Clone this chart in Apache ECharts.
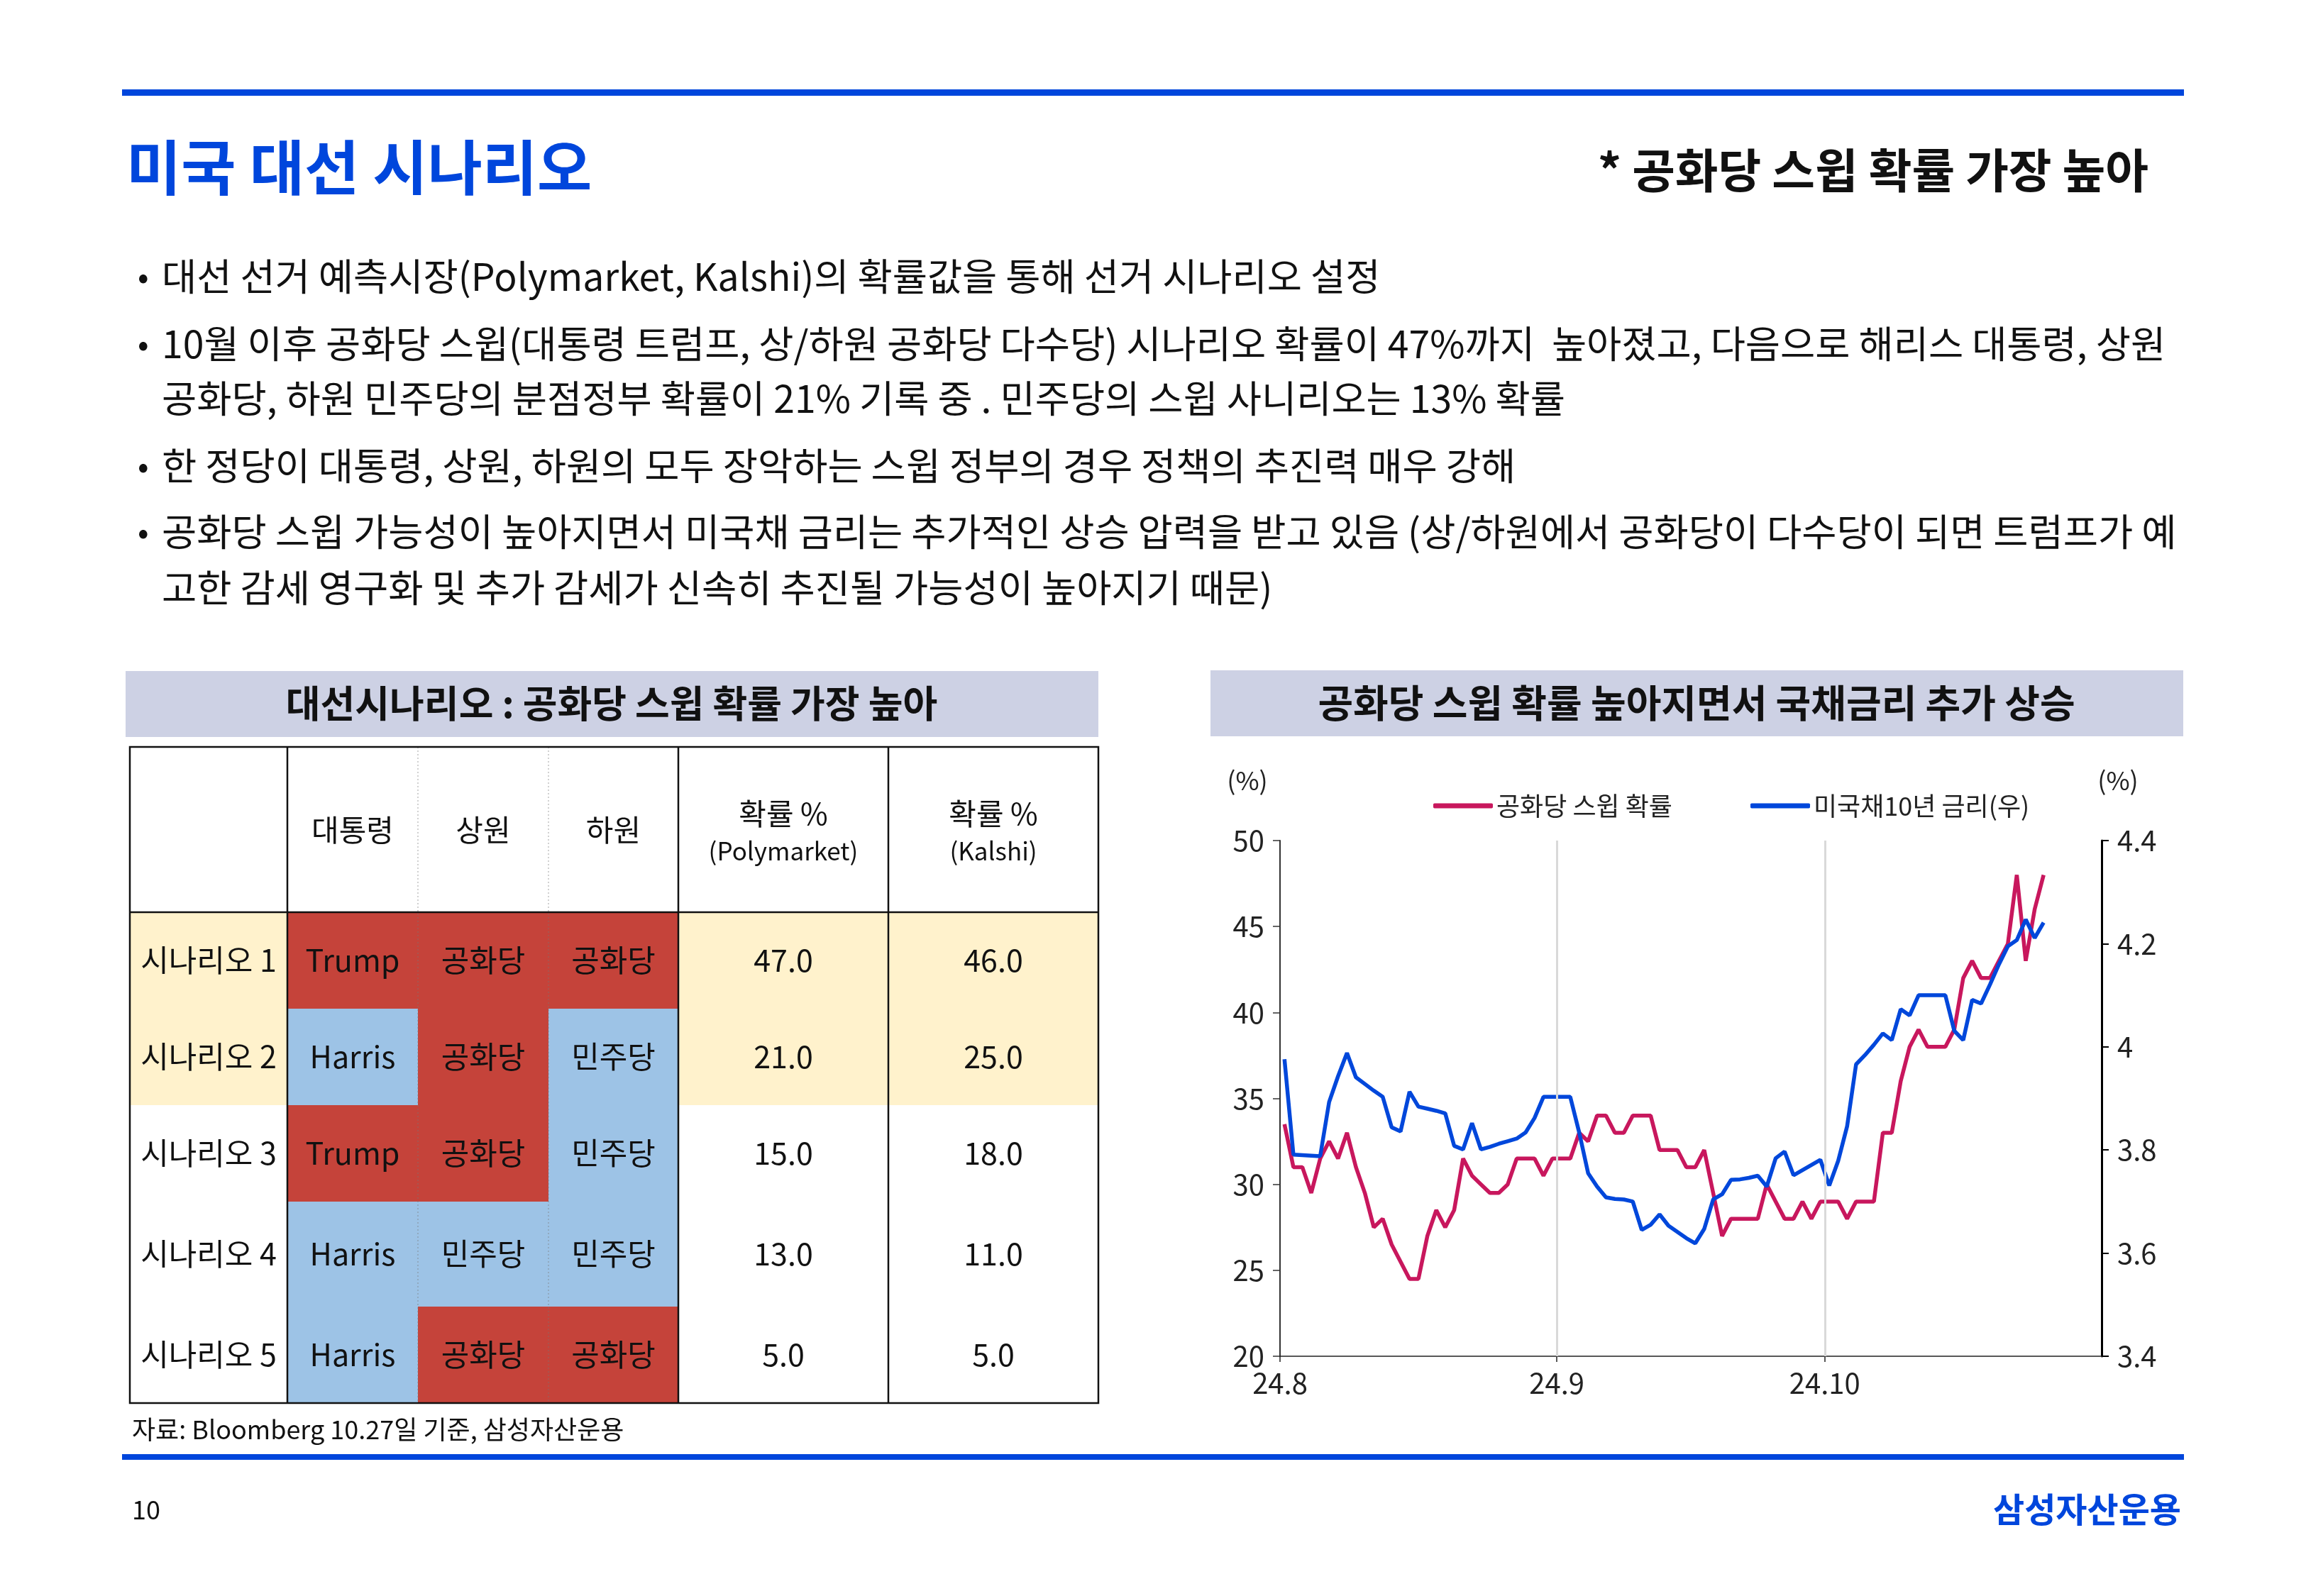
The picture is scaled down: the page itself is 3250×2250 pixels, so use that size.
<!DOCTYPE html>
<html><head><meta charset="utf-8">
<script src="https://cdn.jsdelivr.net/npm/echarts@6/dist/echarts.min.js"></script>
<style>html,body{margin:0;padding:0;background:#fff}#c{width:3250px;height:2250px}</style>
</head><body><div id="c"></div>
<script>
// ---------------- DATA ----------------
const dates = [
 '2024-08-01','2024-08-02','2024-08-03','2024-08-04','2024-08-05','2024-08-06','2024-08-07','2024-08-08','2024-08-09','2024-08-10',
 '2024-08-11','2024-08-12','2024-08-13','2024-08-14','2024-08-15','2024-08-16','2024-08-17','2024-08-18','2024-08-19','2024-08-20',
 '2024-08-21','2024-08-22','2024-08-23','2024-08-24','2024-08-25','2024-08-26','2024-08-27','2024-08-28','2024-08-29','2024-08-30',
 '2024-08-31',
 '2024-09-01','2024-09-02','2024-09-03','2024-09-04','2024-09-05','2024-09-06','2024-09-07','2024-09-08','2024-09-09','2024-09-10',
 '2024-09-11','2024-09-12','2024-09-13','2024-09-14','2024-09-15','2024-09-16','2024-09-17','2024-09-18','2024-09-19','2024-09-20',
 '2024-09-21','2024-09-22','2024-09-23','2024-09-24','2024-09-25','2024-09-26','2024-09-27','2024-09-28','2024-09-29','2024-09-30',
 '2024-10-01','2024-10-02','2024-10-03','2024-10-04','2024-10-05','2024-10-06','2024-10-07','2024-10-08','2024-10-09','2024-10-10',
 '2024-10-11','2024-10-12','2024-10-13','2024-10-14','2024-10-15','2024-10-16','2024-10-17','2024-10-18','2024-10-19','2024-10-20',
 '2024-10-21','2024-10-22','2024-10-23','2024-10-24','2024-10-25'
];
const sweepProb = [
 33.5,31,31,29.5,31.5,32.5,31.5,33,31,29.5,
 27.5,28,26.5,25.5,24.5,24.5,27,28.5,27.5,28.5,
 31.5,30.5,30,29.5,29.5,30,31.5,31.5,31.5,30.5,
 31.5,
 31.5,31.5,33,32.5,34,34,33,33,34,34,
 34,32,32,32,31,31,32,29.5,27,28,
 28,28,28,30,29,28,28,29,28,29,
 29,29,28,29,29,29,33,33,36,38,
 39,38,38,38,39,42,43,42,42,43,
 44,48,43,46,48
];
const ust10y = [
 3.976,3.791,3.790,3.789,3.788,3.893,3.943,3.988,3.941,3.928,
 3.915,3.903,3.844,3.836,3.913,3.884,3.880,3.876,3.871,3.808,
 3.801,3.852,3.801,3.806,3.812,3.817,3.822,3.834,3.862,3.903,
 3.903,
 3.903,3.903,3.834,3.755,3.729,3.708,3.705,3.704,3.700,3.645,
 3.655,3.675,3.653,3.641,3.629,3.619,3.647,3.704,3.714,3.742,
 3.743,3.746,3.750,3.729,3.784,3.797,3.751,3.761,3.771,3.781,
 3.731,3.779,3.846,3.966,3.984,4.004,4.026,4.013,4.073,4.061,
 4.100,4.100,4.100,4.100,4.031,4.013,4.091,4.084,4.121,4.160,
 4.195,4.207,4.247,4.211,4.241
];
const seriesNames = ['공화당 스윕 확률','미국채10년 금리(우)'];
const xTickDates = ['2024-08-01','2024-09-01','2024-10-01'];
const xTickLabels = ['24.8','24.9','24.10'];
const gridLineDates = ['2024-09-01','2024-10-01'];
const xRange = ['2024-08-01','2024-11-01'];

const scenarioLabels = ['시나리오 1','시나리오 2','시나리오 3','시나리오 4','시나리오 5'];
const presidentCol = ['Trump','Harris','Trump','Harris','Harris'];
const senateCol = ['공화당','공화당','공화당','민주당','공화당'];
const houseCol = ['공화당','민주당','민주당','민주당','공화당'];
const polymarketProb = [47,21,15,13,5];
const kalshiProb = [46,25,18,11,5];
const partyHeaders = ['대통령','상원','하원'];
const probHeaders = [['확률 %','(Polymarket)'],['확률 %','(Kalshi)']];

const pageTitle = '미국 대선 시나리오';
const pageSubtitle = '* 공화당 스윕 확률 가장 높아';
const bulletLines = [
 {b:true, t:'대선 선거 예측시장(Polymarket, Kalshi)의 확률값을 통해 선거 시나리오 설정'},
 {b:true, t:'10월 이후 공화당 스윕(대통령 트럼프, 상/하원 공화당 다수당) 시나리오 확률이 47%까지  높아졌고, 다음으로 해리스 대통령, 상원'},
 {b:false,t:'공화당, 하원 민주당의 분점정부 확률이 21% 기록 중 . 민주당의 스윕 사니리오는 13% 확률'},
 {b:true, t:'한 정당이 대통령, 상원, 하원의 모두 장악하는 스윕 정부의 경우 정책의 추진력 매우 강해'},
 {b:true, t:'공화당 스윕 가능성이 높아지면서 미국채 금리는 추가적인 상승 압력을 받고 있음 (상/하원에서 공화당이 다수당이 되면 트럼프가 예'},
 {b:false,t:'고한 감세 영구화 및 추가 감세가 신속히 추진될 가능성이 높아지기 때문)'}
];
const leftPanelTitle = '대선시나리오 : 공화당 스윕 확률 가장 높아';
const rightPanelTitle = '공화당 스윕 확률 높아지면서 국채금리 추가 상승';
const sourceText = '자료: Bloomberg 10.27일 기준, 삼성자산운용';
const pageNumber = '10';
const companyName = '삼성자산운용';

// ---------------- STYLE ----------------
const FONT = '"Noto Sans CJK KR","Noto Sans",sans-serif';
const BLUE = '#0046dc';
const RED_LINE = '#c8175d';
const BLUE_LINE = '#0047db';
const HEAD_BG = '#cdd1e4';
const CELL_RED = '#c5433a';
const CELL_BLUE = '#9dc3e6';
const CELL_YEL = '#fff2cc';

const ts = s => new Date(s + 'T00:00:00').getTime();
const HALF_DAY = 12 * 3600 * 1000;
const xTickTs = xTickDates.map(ts);

function T(text, x, y, size, o) {
  o = o || {};
  return {type:'text', x, y, z: o.z || 20, silent:true,
    style:{text, fontSize:size, fontFamily:FONT, fontWeight:o.w || 'normal',
      fill:o.c || '#111', align:o.a || 'left', verticalAlign:'middle'}};
}
function R(x, y, w, h, fill, z) {
  return {type:'rect', z: z || 1, silent:true, shape:{x, y, width:w, height:h}, style:{fill}};
}
function L(x1, y1, x2, y2, stroke, lw, dash, z) {
  return {type:'line', z: z || 15, silent:true, shape:{x1, y1, x2, y2},
    style:{stroke, lineWidth:lw, lineDash: dash || null}};
}

const g = [];
g.push(R(172, 126, 2906, 9, BLUE, 2));
g.push(R(172, 2050, 2906, 8, BLUE, 2));
g.push(T(pageTitle, 178, 236, 84, {w:'bold', c:BLUE}));
g.push(T(pageSubtitle, 3028, 240, 66, {w:'bold', c:'#111', a:'right'}));
const bulletY = [390, 485, 562, 657, 750, 829];
bulletLines.forEach((ln, i) => {
  if (ln.b) g.push(T('•', 194, bulletY[i], 46, {c:'#111'}));
  g.push(T(ln.t, 228, bulletY[i], 53.5, {c:'#111'}));
});
g.push(R(177, 946, 1371, 93, HEAD_BG, 2));
g.push(T(leftPanelTitle, 862, 992, 53, {w:'bold', a:'center'}));
g.push(R(1706, 945, 1371, 93, HEAD_BG, 2));
g.push(T(rightPanelTitle, 2391, 991, 54, {w:'bold', a:'center'}));

const colX = [183, 405, 589, 773, 956, 1252, 1548];
const rowY = [1053, 1286, 1422, 1558, 1694, 1842, 1978];
const highlightRows = 2;
const partyColor = v => (v === 'Trump' || v === '공화당') ? CELL_RED : CELL_BLUE;
for (let r = 0; r < scenarioLabels.length; r++) {
  const y0 = rowY[r + 1], h = rowY[r + 2] - rowY[r + 1], cy = y0 + h / 2;
  const hl = r < highlightRows;
  const cells = [
    {v: scenarioLabels[r], fill: hl ? CELL_YEL : null},
    {v: presidentCol[r], fill: partyColor(presidentCol[r])},
    {v: senateCol[r], fill: partyColor(senateCol[r])},
    {v: houseCol[r], fill: partyColor(houseCol[r])},
    {v: polymarketProb[r].toFixed(1), fill: hl ? CELL_YEL : null},
    {v: kalshiProb[r].toFixed(1), fill: hl ? CELL_YEL : null}
  ];
  cells.forEach((c, ci) => {
    if (c.fill) g.push(R(colX[ci], y0, colX[ci + 1] - colX[ci], h, c.fill, 3));
    g.push(T(c.v, (colX[ci] + colX[ci + 1]) / 2, cy, 43, {a:'center', c:'#111'}));
  });
}
partyHeaders.forEach((hd, i) => g.push(T(hd, (colX[i + 1] + colX[i + 2]) / 2, 1170, 42, {a:'center'})));
probHeaders.forEach((hd, i) => {
  const cx = (colX[i + 4] + colX[i + 5]) / 2;
  g.push(T(hd[0], cx, 1147, 42, {a:'center'}));
  g.push(T(hd[1], cx, 1200, 35, {a:'center'}));
});
g.push({type:'rect', z:16, silent:true, shape:{x:183, y:1053, width:1365, height:925},
  style:{fill:null, stroke:'#111', lineWidth:2.5}});
[405, 956, 1252].forEach(x => g.push(L(x, 1053, x, 1978, '#111', 2.5)));
[589, 773].forEach(x => g.push(L(x, 1053, x, 1978, 'rgba(120,120,120,0.45)', 1.5, [2, 3], 14)));
g.push(L(183, 1286, 1548, 1286, '#111', 2.5));
g.push(T(sourceText, 186, 2015, 36));
g.push(T(pageNumber, 186, 2128, 36));
g.push(T(companyName, 3074, 2128, 48, {w:'bold', c:BLUE, a:'right'}));
g.push(T('(%)', 1758, 1100, 36, {a:'center', c:'#222'}));
g.push(T('(%)', 2985, 1100, 36, {a:'center', c:'#222'}));

// ---------------- CHART ----------------
const chart = echarts.init(document.getElementById('c'), null, {renderer:'canvas', width:3250, height:2250});
const axisFont = {fontSize:40, fontFamily:FONT, color:'#222'};
chart.setOption({
  backgroundColor:'#fff',
  animation:false,
  textStyle:{fontFamily:FONT},
  graphic: g,
  grid:{left:1804, top:1185, width:1158, height:727, containLabel:false},
  legend:[
    {data:[seriesNames[0]], left:2015, top:1113, icon:'roundRect', itemWidth:84, itemHeight:7,
      textStyle:{fontSize:36, fontFamily:FONT, color:'#222'}},
    {data:[seriesNames[1]], left:2462, top:1113, icon:'roundRect', itemWidth:84, itemHeight:7,
      textStyle:{fontSize:36, fontFamily:FONT, color:'#222'}}
  ],
  xAxis:{
    type:'value', min:ts(xRange[0]), max:ts(xRange[1]), scale:true,
    axisLine:{show:true, lineStyle:{color:'#222', width:1.5}},
    axisTick:{show:true, customValues:xTickTs, length:8, lineStyle:{color:'#222', width:1.5}},
    axisLabel:Object.assign({customValues:xTickTs, margin:18,
      formatter:v => { const i = xTickTs.indexOf(v); return i >= 0 ? xTickLabels[i] : ''; }}, axisFont),
    splitLine:{show:false}
  },
  yAxis:[
    {type:'value', min:20, max:50, interval:5, position:'left',
      axisLine:{show:true, lineStyle:{color:'#333', width:2}},
      axisTick:{show:true, length:10, lineStyle:{color:'#333', width:1.5}},
      axisLabel:Object.assign({margin:22}, axisFont), splitLine:{show:false}},
    {type:'value', min:3.4, max:4.4, interval:0.2, position:'right',
      axisLine:{show:true, lineStyle:{color:'#000', width:3}},
      axisTick:{show:true, length:10, lineStyle:{color:'#000', width:2}},
      axisLabel:Object.assign({margin:22, formatter:v => String(Math.round(v * 10) / 10)}, axisFont),
      splitLine:{show:false}}
  ],
  series:[
    {type:'line', name:'_grid', data:[], z:1, silent:true,
      markLine:{silent:true, symbol:['none','none'], label:{show:false},
        lineStyle:{color:'#d9d9d9', width:3, type:'solid'},
        data:gridLineDates.map(d => ({xAxis: ts(d)}))}},
    {type:'line', name:seriesNames[0], yAxisIndex:0, z:3, showSymbol:false, symbol:'none',
      lineStyle:{color:RED_LINE, width:5.5}, itemStyle:{color:RED_LINE},
      data:dates.map((d, i) => [ts(d) + HALF_DAY, sweepProb[i]])},
    {type:'line', name:seriesNames[1], yAxisIndex:1, z:4, showSymbol:false, symbol:'none',
      lineStyle:{color:BLUE_LINE, width:5.5}, itemStyle:{color:BLUE_LINE},
      data:dates.map((d, i) => [ts(d) + HALF_DAY, ust10y[i]])}
  ]
});
</script></body></html>
